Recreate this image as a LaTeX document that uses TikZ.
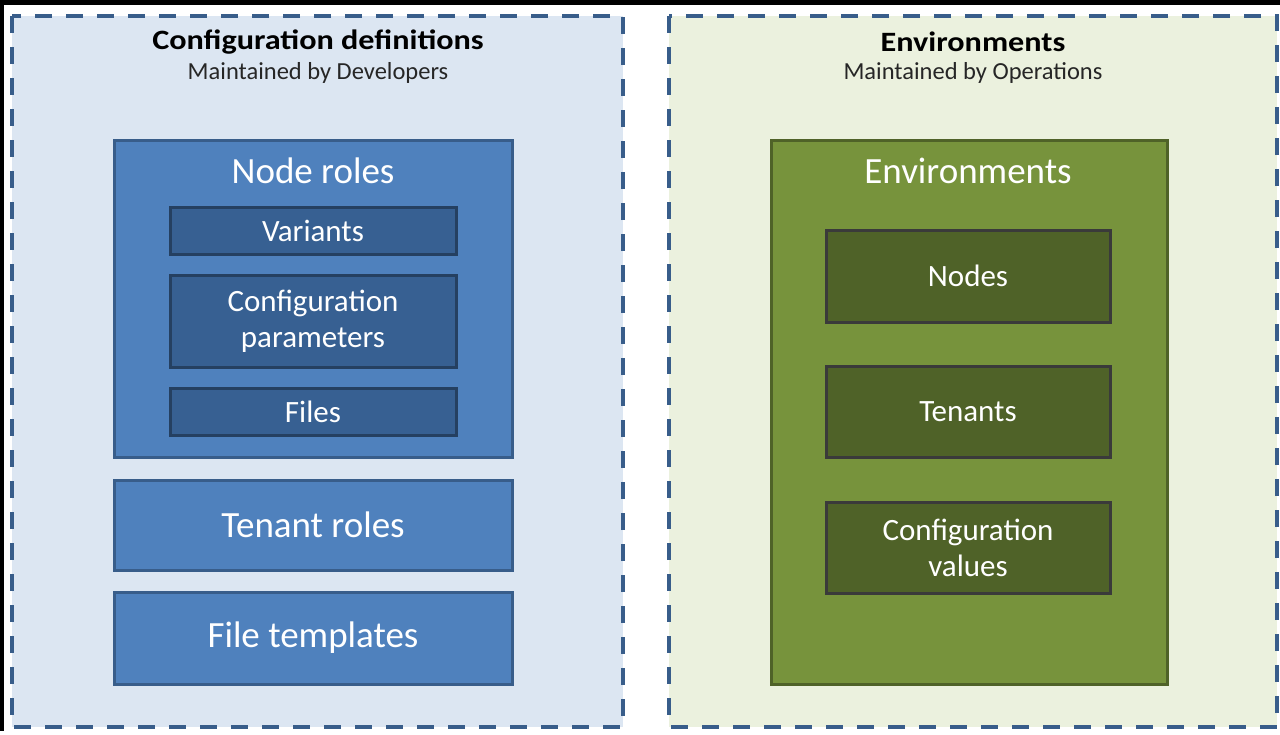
\documentclass[tikz,border=0pt]{standalone}
\usepackage{fontspec}
\setmainfont{Carlito}
\newfontfamily\titlefont[FakeStretch=1.15]{Carlito}
\definecolor{dashblue}{HTML}{385D8A}
\definecolor{lbluefill}{HTML}{DCE6F2}
\definecolor{lgreenfill}{HTML}{EBF1DE}
\definecolor{midblue}{HTML}{4F81BD}
\definecolor{midblueline}{HTML}{385D8A}
\definecolor{darkblue}{HTML}{376092}
\definecolor{darkblueline}{HTML}{254061}
\definecolor{midgreen}{HTML}{77933C}
\definecolor{midgreenline}{HTML}{4F6228}
\definecolor{darkgreen}{HTML}{4F6228}
\definecolor{darkgreenline}{HTML}{3A3A3A}
\begin{document}
\begin{tikzpicture}[x=1pt,y=-1pt,
  outerbox/.style={draw=dashblue, line width=3.5pt, dash pattern=on 17pt off 14pt},
  bluebig/.style={draw=midblueline, fill=midblue, line width=3pt},
  bluesmall/.style={draw=darkblueline, fill=darkblue, line width=3pt},
  greenbig/.style={draw=midgreenline, fill=midgreen, line width=3pt},
  greensmall/.style={draw=darkgreenline, fill=darkgreen, line width=3pt},
  bigtxt/.style={text=white, font=\fontsize{37}{40}\selectfont},
  smalltxt/.style={text=white, font=\fontsize{31}{36}\selectfont, align=center},
  titletxt/.style={text=black, font=\titlefont\bfseries\fontsize{28}{30}\selectfont},
  subtxt/.style={text=black!85, font=\fontsize{24.5}{26}\selectfont}
]
\useasboundingbox (0,0) rectangle (1280,734);
\fill[white] (0,0) rectangle (1280,734);
\fill[black] (0,0) rectangle (1280,5);
\fill[black] (0,0) rectangle (4,731);
% outer dashed boxes
\fill[lbluefill] (12,16) rectangle (623,727);
\fill[lgreenfill] (669,16) rectangle (1277,727);
\draw[outerbox] (12,16) rectangle (623,727);
\draw[outerbox] (669,16) rectangle (1277,727);
\node[titletxt] (t1) at (318,42) {Configuration definitions};
\node[subtxt] (s1) at (318,73) {Maintained by Developers};
\node[titletxt] (t2) at (973,42) {Environments};
\node[subtxt] (s2) at (973,73) {Maintained by Operations};
% left side
\draw[bluebig] (114,140) rectangle (512,457);
\node[bigtxt] (noderoles) at (313,171) {Node roles};
\draw[bluesmall] (170,207) rectangle (456,254);
\node[smalltxt] (variants) at (313,231) {Variants};
\draw[bluesmall] (170,275) rectangle (456,367);
\node[smalltxt] (confparam) at (313,321) {Configuration\\parameters};
\draw[bluesmall] (170,388) rectangle (456,435);
\node[smalltxt] (files) at (313,412) {Files};
\draw[bluebig] (114,480) rectangle (512,570);
\node[bigtxt] (tenantroles) at (313,525) {Tenant roles};
\draw[bluebig] (114,592) rectangle (512,684);
\node[bigtxt] (filetemplates) at (313,638) {File templates};
% right side
\draw[greenbig] (771,140) rectangle (1167,684);
\node[bigtxt] (envs) at (968,171) {Environments};
\draw[greensmall] (826,230) rectangle (1110,322);
\node[smalltxt] (nodes) at (968,276) {Nodes};
\draw[greensmall] (826,366) rectangle (1110,457);
\node[smalltxt] (tenants) at (968,412) {Tenants};
\draw[greensmall] (826,502) rectangle (1110,593);
\node[smalltxt] (confvalues) at (968,548) {Configuration\\values};
\end{tikzpicture}
\end{document}
